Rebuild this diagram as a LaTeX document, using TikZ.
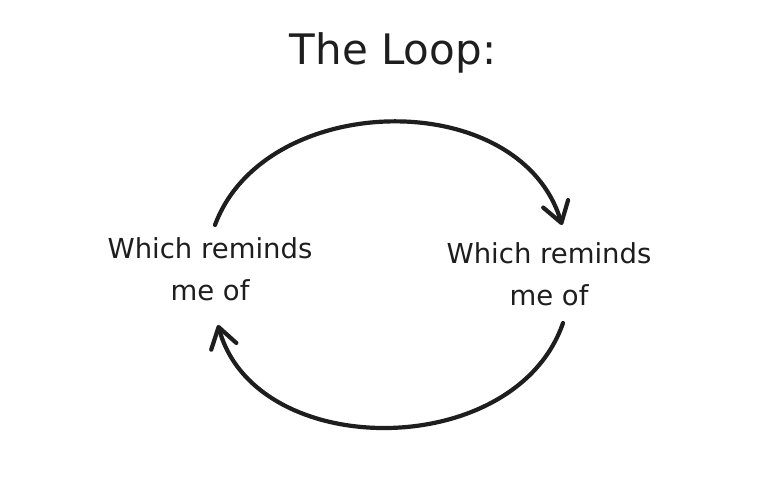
\documentclass[tikz,border=0pt]{standalone}
\usepackage{fontspec}
\setmainfont{DejaVu Sans}
\usetikzlibrary{arrows.meta}
\definecolor{ink}{HTML}{1E1E1E}
\begin{document}
\begin{tikzpicture}[x=1pt,y=-1pt,
  lbl/.style={font=\fontsize{27.5}{42}\selectfont, align=center, inner sep=0pt, text=ink, anchor=base},
  ttl/.style={font=\fontsize{42}{48}\selectfont, inner sep=0pt, text=ink, anchor=base},
  loop/.style={draw=ink, line width=4.2pt, line cap=round, line join=round,
    -{Straight Barb[length=20pt,width=26pt,line cap=round,line join=round]}}]
\useasboundingbox[fill=white] (0,0) rectangle (775,497);
\node[ttl] (title) at (393,65) {The Loop:};
\node[lbl] (left) at (210,300) {Which reminds\\me of};
\node[lbl] (right) at (549,305) {Which reminds\\me of};
\coordinate (ts) at (215,225);
\coordinate (te) at (562,225);
\coordinate (bs) at (563,323);
\coordinate (be) at (218,325);
\draw[loop] (ts) .. controls (265,90) and (520,85) .. (te);
\draw[loop] (bs) .. controls (515,462) and (255,462) .. (be);
\end{tikzpicture}
\end{document}
